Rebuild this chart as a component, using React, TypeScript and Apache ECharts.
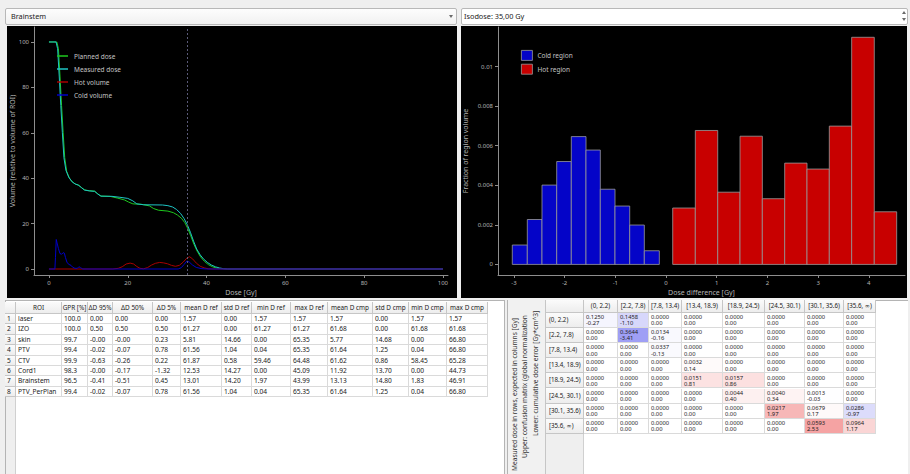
import React, { useEffect, useRef } from "react";
import * as echarts from "echarts";

const FONT = '"Noto Sans", "DejaVu Sans", sans-serif';

// ---- Dose-volume histogram of the selected ROI: [dose Gy, volume %] ----
const plannedDose: number[][] = [
  [0, 100], [2.0, 100], [2.4, 97], [2.8, 85], [3.2, 72], [3.6, 60], [4.0, 49], [4.5, 43], [5.2, 40],
  [6.0, 38.3], [6.8, 37.3], [7.6, 36.9], [8.3, 35.8], [9.1, 34.8], [10.2, 34.5], [11.6, 34.3],
  [12.4, 33.1], [13.2, 32.1], [15.5, 32], [17.5, 31.2], [19.2, 30.4], [20.2, 29.5], [21.3, 28.7],
  [23.5, 28.5], [25.5, 27.8], [26.6, 26.6], [27.8, 25.9], [30.2, 25.5], [31.6, 24.8], [32.6, 23.8],
  [33.6, 22.4], [34.5, 20.4], [35.2, 18], [36, 14.6], [36.8, 10.9], [37.6, 7.9], [38.5, 5.3],
  [39.5, 3.3], [40.5, 1.9], [41.5, 1.0], [42.5, 0.45], [43.5, 0.15], [44.5, 0], [100, 0],
];
const measuredDose: number[][] = [
  [0, 100], [1.8, 100], [2.2, 97], [2.6, 85], [3.0, 72], [3.4, 60], [3.8, 49], [4.3, 43.5], [5.0, 40.5],
  [5.8, 38.5], [6.6, 37.5], [7.4, 37], [8.2, 35.9], [9.0, 34.8], [10.2, 34.4], [11.6, 34.2],
  [12.4, 33], [13.2, 32.1], [16, 32], [18, 31.6], [20, 31.1], [21.3, 30], [22.3, 28.7], [24, 28.3],
  [28.8, 28.2], [30.2, 27.9], [31.4, 27.3], [32.4, 26.2], [33.4, 24.5], [34.3, 22.2], [35.1, 19.6],
  [35.9, 16.2], [36.7, 12.3], [37.5, 8.8], [38.4, 6.2], [39.3, 4.3], [40.3, 2.8], [41.3, 1.7],
  [42.3, 0.95], [43.3, 0.45], [44.3, 0.15], [45.3, 0], [100, 0],
];
const hotVolume: number[][] = [
  [0, 0], [16.2, 0], [17.6, 0.3], [18.6, 1], [19.6, 2.2], [20.6, 2.6], [21.5, 2.2], [22.3, 1.1],
  [23.1, 0.3], [24, 0.1], [25, 0.6], [26, 1.7], [27, 2.5], [28.1, 2.9], [29.1, 2.7], [30.1, 2.3],
  [31.1, 1.6], [32.1, 1.2], [33.1, 1.6], [34.1, 3.1], [35, 4.8], [35.7, 5.4], [36.5, 4.4],
  [37.4, 2.6], [38.4, 1.2], [39.4, 0.5], [40.4, 0.1], [41.4, 0], [100, 0],
];
const coldVolume: number[][] = [
  [0, 0], [1.5, 0], [1.65, 5], [1.85, 13], [2.05, 11.5], [2.4, 9], [2.8, 6.8], [3.2, 6.5], [3.6, 7.2],
  [3.9, 7], [4.2, 5], [4.6, 2.8], [5.1, 2], [5.6, 1.6], [6.0, 0.8], [6.6, 0.3], [7.2, 0.3], [7.6, 1],
  [8.0, 0.6], [8.6, 0], [32.8, 0], [33.6, 0.6], [34.3, 2], [35, 3.5], [35.6, 3.1], [36.4, 1.8],
  [37.4, 0.7], [38.6, 0.2], [40, 0], [100, 0],
];
const isodoseGy = 35;
const doseTicks = [0, 20, 40, 60, 80, 100];
const volumeTicks = [0, 20, 40, 60, 80, 100];

// ---- Dose-difference histograms inside the isodose ----
const coldEdges = [-3.032, -2.736, -2.446, -2.156, -1.868, -1.578, -1.296, -1.006, -0.716, -0.428, -0.132];
const coldFractions = [0.00098, 0.00227, 0.00401, 0.0052, 0.00646, 0.00578, 0.0038, 0.00295, 0.00199, 0.00069];
const hotEdges = [0.132, 0.578, 1.02, 1.46, 1.9, 2.341, 2.781, 3.221, 3.662, 4.108, 4.55];
const hotFractions = [0.00285, 0.00677, 0.00365, 0.00648, 0.00332, 0.00512, 0.00482, 0.00699, 0.01148, 0.00266];
const diffTicks = [-3, -2, -1, 0, 1, 2, 3, 4];
const fractionTicks = [0, 0.002, 0.004, 0.006, 0.008, 0.01];

// ---- ROI statistics table ----
const roiColumns = ["ROI", "GPR [%]", "ΔD 95%", "ΔD 50%", "ΔD 5%", "mean D ref", "std D ref", "min D ref", "max D ref", "mean D cmp", "std D cmp", "min D cmp", "max D cmp"];
const roiNames = ["laser", "IZO", "skin", "PTV", "CTV", "Cord1", "Brainstem", "PTV_PerPlan"];
const gprPercent = ["100.0", "100.0", "99.7", "99.4", "99.9", "98.3", "96.5", "99.4"];
const deltaD95 = ["0.00", "0.50", "-0.00", "-0.02", "-0.63", "-0.00", "-0.41", "-0.02"];
const deltaD50 = ["0.00", "0.50", "-0.00", "-0.07", "-0.26", "-0.17", "-0.51", "-0.07"];
const deltaD5 = ["0.00", "0.50", "0.23", "0.78", "0.22", "-1.32", "0.45", "0.78"];
const meanDRef = ["1.57", "61.27", "5.81", "61.56", "61.87", "12.53", "13.01", "61.56"];
const stdDRef = ["0.00", "0.00", "14.66", "1.04", "0.58", "14.27", "14.20", "1.04"];
const minDRef = ["1.57", "61.27", "0.00", "0.04", "59.46", "0.00", "1.97", "0.04"];
const maxDRef = ["1.57", "61.27", "65.35", "65.35", "64.48", "45.09", "43.99", "65.35"];
const meanDCmp = ["1.57", "61.68", "5.77", "61.64", "61.62", "11.92", "13.13", "61.64"];
const stdDCmp = ["0.00", "0.00", "14.68", "1.25", "0.86", "13.70", "14.80", "1.25"];
const minDCmp = ["1.57", "61.68", "0.00", "0.04", "58.45", "0.00", "1.83", "0.04"];
const maxDCmp = ["1.57", "61.68", "66.80", "66.80", "65.28", "44.73", "46.91", "66.80"];

// ---- Confusion matrix of dose bins ----
const doseBins = ["(0, 2.2)", "[2.2, 7.8)", "[7.8, 13.4)", "[13.4, 18.9)", "[18.9, 24.5)", "[24.5, 30.1)", "[30.1, 35.6)", "[35.6, ∞)"];
const confusionUpper = [
  [0.125, 0.1458, 0, 0, 0, 0, 0, 0],
  [0, 0.3644, 0.0134, 0, 0, 0, 0, 0],
  [0, 0, 0.0337, 0, 0, 0, 0, 0],
  [0, 0, 0, 0.0032, 0, 0, 0, 0],
  [0, 0, 0, 0.0151, 0.0157, 0, 0, 0],
  [0, 0, 0, 0, 0.0044, 0.004, 0.0013, 0],
  [0, 0, 0, 0, 0, 0.0217, 0.0679, 0.0286],
  [0, 0, 0, 0, 0, 0, 0.0593, 0.0964],
];
const doseErrorLower = [
  [-0.27, -1.1, 0, 0, 0, 0, 0, 0],
  [0, -3.41, -0.16, 0, 0, 0, 0, 0],
  [0, 0, -0.13, 0, 0, 0, 0, 0],
  [0, 0, 0, 0.14, 0, 0, 0, 0],
  [0, 0, 0, 0.81, 0.86, 0, 0, 0],
  [0, 0, 0, 0, 0.4, 0.34, -0.03, 0],
  [0, 0, 0, 0, 0, 1.97, 0.17, -0.97],
  [0, 0, 0, 0, 0, 0, 2.53, 1.17],
];
const matrixCaption = [
  "Measured dose in rows, expected in columns [Gy]",
  "Upper: confusion matrix (global normalization",
  "Lower: cumulative dose error [Gy*cm^3]",
];

const AXIS = "#8e8e8e";
const LABEL = "#b4b4b4";

function baseAxis(extra: any) {
  return {
    type: "value",
    nameLocation: "middle",
    nameMoveOverlap: false,
    nameTextStyle: { color: LABEL, fontSize: 7, fontFamily: FONT },
    axisLine: { show: true, onZero: false, lineStyle: { color: AXIS, width: 1 } },
    axisTick: { show: true, length: 3, lineStyle: { color: AXIS } },
    axisLabel: { color: LABEL, fontSize: 6, fontFamily: FONT, margin: 4 },
    splitLine: { show: false },
    ...extra,
  };
}

function dvhLine(name: string, data: number[][], color: string, extra: any = {}) {
  return {
    type: "line",
    name,
    data,
    symbol: "none",
    showSymbol: false,
    lineStyle: { color, width: 1 },
    itemStyle: { color },
    ...extra,
  };
}

const dvhOption = {
  animation: false,
  backgroundColor: "#000",
  textStyle: { fontFamily: FONT },
  grid: { left: 27, top: 1, width: 414, height: 248, containLabel: false, outerBoundsMode: "none" },
  legend: {
    orient: "vertical",
    left: 50,
    top: 25,
    padding: 0,
    icon: "rect",
    itemWidth: 11,
    itemHeight: 1.5,
    itemGap: 3,
    selectedMode: false,
    textStyle: { color: "#c4c4c4", fontSize: 6.5, lineHeight: 10, fontFamily: FONT, padding: [0, 0, 0, 1] },
    data: ["Planned dose", "Measured dose", "Hot volume", "Cold volume"],
  },
  xAxis: baseAxis({
    min: -3.8,
    max: 101.3,
    name: "Dose [Gy]",
    nameGap: 14,
    axisTick: { show: true, length: 3, lineStyle: { color: AXIS }, customValues: doseTicks },
    axisLabel: { color: LABEL, fontSize: 6, fontFamily: FONT, margin: 5, customValues: doseTicks },
  }),
  yAxis: baseAxis({
    min: -2.64,
    max: 106.6,
    name: "Volume (relative to volume of ROI)",
    nameGap: 18,
    nameRotate: 90,
    axisTick: { show: true, length: 3, lineStyle: { color: AXIS }, customValues: volumeTicks },
    axisLabel: { color: LABEL, fontSize: 6, fontFamily: FONT, margin: 5, customValues: volumeTicks },
  }),
  series: [
    dvhLine("Planned dose", plannedDose, "#1ec81e", {
      markLine: {
        silent: true,
        symbol: ["none", "none"],
        label: { show: false },
        lineStyle: { color: "#5a5a78", type: [2, 2], width: 1 },
        data: [{ xAxis: isodoseGy }],
      },
    }),
    dvhLine("Measured dose", measuredDose, "#1ec4c4"),
    dvhLine("Hot volume", hotVolume, "#a80000"),
    dvhLine("Cold volume", coldVolume, "#0000c8"),
  ],
};

function histogramSeries(name: string, edges: number[], heights: number[], color: string) {
  return {
    type: "custom",
    name,
    itemStyle: { color },
    data: heights.map((h, i) => [edges[i], edges[i + 1], h]),
    encode: { x: [0, 1], y: 2 },
    renderItem: (_params: any, api: any) => {
      const top = api.coord([api.value(0), api.value(2)]);
      const bottom = api.coord([api.value(1), 0]);
      return {
        type: "rect",
        shape: { x: top[0], y: top[1], width: bottom[0] - top[0], height: bottom[1] - top[1] },
        style: { fill: color, stroke: "#9a9a9a", lineWidth: 0.8 },
      };
    },
  };
}

const diffOption = {
  animation: false,
  backgroundColor: "#000",
  textStyle: { fontFamily: FONT },
  grid: { left: 37, top: 1, width: 407, height: 248, containLabel: false, outerBoundsMode: "none" },
  legend: {
    orient: "vertical",
    left: 60,
    top: 24,
    padding: 0,
    icon: "rect",
    itemWidth: 11,
    itemHeight: 10,
    itemGap: 3,
    selectedMode: false,
    itemStyle: { borderColor: "#9a9a9a", borderWidth: 0.8 },
    textStyle: { color: "#c4c4c4", fontSize: 6.5, lineHeight: 10, fontFamily: FONT },
    data: ["Cold region", "Hot region"],
  },
  xAxis: baseAxis({
    min: -3.314,
    max: 4.714,
    name: "Dose difference [Gy]",
    nameGap: 14,
    axisTick: { show: true, length: 3, lineStyle: { color: AXIS }, customValues: diffTicks },
    axisLabel: { color: LABEL, fontSize: 6, fontFamily: FONT, margin: 5, customValues: diffTicks },
  }),
  yAxis: baseAxis({
    min: -0.000535,
    max: 0.012,
    name: "Fraction of region volume",
    nameGap: 29,
    nameRotate: 90,
    axisTick: { show: true, length: 3, lineStyle: { color: AXIS }, customValues: fractionTicks },
    axisLabel: {
      color: LABEL,
      fontSize: 6,
      fontFamily: FONT,
      margin: 5,
      customValues: fractionTicks,
      formatter: (v: number) => String(v),
    },
  }),
  series: [
    histogramSeries("Cold region", coldEdges, coldFractions, "#0404c8"),
    histogramSeries("Hot region", hotEdges, hotFractions, "#c80000"),
  ],
};

function EChart({ option, style }: { option: any; style: React.CSSProperties }) {
  const ref = useRef<HTMLDivElement>(null);
  useEffect(() => {
    const chart = echarts.init(ref.current as HTMLDivElement, null, { renderer: "svg" });
    chart.setOption(option);
    return () => chart.dispose();
  }, [option]);
  return <div ref={ref} style={style} />;
}

function Box({ x, y, w, h, style, children }: any) {
  return (
    <div
      style={{
        position: "absolute",
        left: x,
        top: y,
        width: w,
        height: h,
        boxSizing: "border-box",
        overflow: "hidden",
        whiteSpace: "nowrap",
        ...style,
      }}
    >
      {children}
    </div>
  );
}

const headerCell: React.CSSProperties = {
  background: "linear-gradient(#fbfbfb, #ededed)",
  borderRight: "1px solid #c6c6c6",
  borderBottom: "1px solid #c6c6c6",
  color: "#222",
};
const bodyCell: React.CSSProperties = {
  background: "#fff",
  borderRight: "1px solid #dadada",
  borderBottom: "1px solid #dadada",
  color: "#222",
};

function RoiTable() {
  const edges = [16, 62, 88, 113, 153, 181, 222, 252, 291, 328, 373, 409, 447, 488];
  const top = 302;
  const headH = 12;
  const rowH = 10.4;
  const columns = [roiNames, gprPercent, deltaD95, deltaD50, deltaD5, meanDRef, stdDRef, minDRef, maxDRef, meanDCmp, stdDCmp, minDCmp, maxDCmp];
  const cells: any[] = [];
  cells.push(<Box key="corner" x={5} y={top} w={11} h={headH} style={headerCell} />);
  roiColumns.forEach((name, c) => {
    cells.push(
      <Box key={"h" + c} x={edges[c]} y={top} w={edges[c + 1] - edges[c]} h={headH}
        style={{ ...headerCell, fontSize: 6.4, lineHeight: headH - 1 + "px", textAlign: "center" }}>
        {name}
      </Box>
    );
  });
  roiNames.forEach((_n, r) => {
    const y = top + headH + r * rowH;
    cells.push(
      <Box key={"n" + r} x={5} y={y} w={11} h={rowH}
        style={{ ...headerCell, fontSize: 6.6, lineHeight: rowH - 1 + "px", paddingLeft: 2 }}>
        {r + 1}
      </Box>
    );
    columns.forEach((col, c) => {
      cells.push(
        <Box key={"c" + r + "_" + c} x={edges[c]} y={y} w={edges[c + 1] - edges[c]} h={rowH}
          style={{ ...bodyCell, fontSize: 6.6, lineHeight: rowH - 1 + "px", paddingLeft: 2 }}>
          {col[r]}
        </Box>
      );
    });
  });
  const tableBottom = top + headH + roiNames.length * rowH;
  return (
    <>
      <Box x={5} y={300} w={500} h={174} style={{ background: "#fff", borderLeft: "1px solid #b4b4b4", borderTop: "1px solid #b4b4b4", borderRight: "1px solid #b4b4b4" }} />
      <Box x={5} y={tableBottom} w={11} h={474 - tableBottom} style={{ background: "#efefef", borderLeft: "1px solid #b4b4b4", borderRight: "1px solid #d0d0d0" }} />
      {cells}
    </>
  );
}

function errorTint(v: number): string {
  const a = Math.min(0.58, Math.abs(v) * 0.22);
  const strong = Math.round(255 - 165 * a);
  const weak = Math.round(255 - 18 * a);
  if (v < 0) return `rgb(${strong}, ${strong}, ${weak})`;
  if (v > 0) return `rgb(${weak}, ${strong}, ${strong})`;
  return "#fff";
}

function ConfusionMatrix() {
  const edges = [584, 618, 649, 682, 723, 765, 805, 844, 876];
  const top = 300;
  const headH = 13;
  const rowH = 15.1;
  const hdrLeft = 546;
  const cells: any[] = [];
  cells.push(<Box key="corner" x={hdrLeft} y={top} w={edges[0] - hdrLeft} h={headH} style={headerCell} />);
  doseBins.forEach((bin, c) => {
    cells.push(
      <Box key={"h" + c} x={edges[c]} y={top} w={edges[c + 1] - edges[c]} h={headH}
        style={{ ...headerCell, fontSize: 6.2, lineHeight: headH - 1 + "px", textAlign: "center" }}>
        {bin}
      </Box>
    );
  });
  doseBins.forEach((bin, r) => {
    const y = top + headH + r * rowH;
    cells.push(
      <Box key={"r" + r} x={hdrLeft} y={y} w={edges[0] - hdrLeft} h={rowH}
        style={{ ...headerCell, fontSize: 6.2, lineHeight: rowH - 1 + "px", paddingLeft: 3 }}>
        {bin}
      </Box>
    );
    doseBins.forEach((_b, c) => {
      const err = doseErrorLower[r][c];
      cells.push(
        <Box key={"c" + r + "_" + c} x={edges[c]} y={y} w={edges[c + 1] - edges[c]} h={rowH}
          style={{ ...bodyCell, background: errorTint(err), fontSize: 5.8, lineHeight: "6.2px", paddingLeft: 2, paddingTop: 1.2 }}>
          <div>{confusionUpper[r][c].toFixed(4)}</div>
          <div>{err.toFixed(2)}</div>
        </Box>
      );
    });
  });
  const tableBottom = top + headH + doseBins.length * rowH;
  const captionX = [514, 524.5, 535];
  const captionStart = [471, 458, 436];
  return (
    <>
      <Box x={507} y={300} w={401} h={174} style={{ background: "#fff", borderLeft: "1px solid #b4b4b4", borderTop: "1px solid #b4b4b4" }} />
      <Box x={508} y={300} w={hdrLeft - 508} h={174} style={{ background: "#f1f1f1", borderRight: "1px solid #c6c6c6" }} />
      <Box x={hdrLeft} y={tableBottom} w={edges[0] - hdrLeft} h={474 - tableBottom} style={{ background: "#efefef", borderRight: "1px solid #d0d0d0" }} />
      {matrixCaption.map((line, i) => (
        <div
          key={"cap" + i}
          style={{
            position: "absolute",
            left: captionX[i] - 4.5,
            top: captionStart[i],
            height: 9,
            lineHeight: "9px",
            fontSize: 6.6,
            color: "#333",
            whiteSpace: "nowrap",
            transform: "rotate(-90deg)",
            transformOrigin: "left top",
          }}
        >
          {line}
        </div>
      ))}
      {cells}
    </>
  );
}

function Arrow({ x, y, up }: { x: number; y: number; up?: boolean }) {
  return (
    <div
      style={{
        position: "absolute",
        left: x,
        top: y,
        width: 0,
        height: 0,
        borderLeft: "2.5px solid transparent",
        borderRight: "2.5px solid transparent",
        ...(up ? { borderBottom: "3px solid #6a6a6a" } : { borderTop: "3px solid #6a6a6a" }),
      }}
    />
  );
}

export default function App() {
  useEffect(() => {
    document.body.style.margin = "0";
  }, []);
  return (
    <div
      style={{
        position: "fixed",
        left: 0,
        top: 0,
        width: 910,
        height: 474,
        background: "#efefef",
        fontFamily: FONT,
        overflow: "hidden",
      }}
    >
      <Box x={5} y={8} w={452} h={17}
        style={{ border: "1px solid #b8b8b8", borderRadius: 2, background: "linear-gradient(#fdfdfd, #f1f1f1)", fontSize: 7.3, lineHeight: "15px", paddingLeft: 5, color: "#222" }}>
        Brainstem
      </Box>
      <Arrow x={449} y={15} />
      <Box x={461} y={8} w={447} h={17}
        style={{ border: "1px solid #b8b8b8", borderRadius: 2, background: "#fff", fontSize: 7.3, lineHeight: "15px", paddingLeft: 2, color: "#222" }}>
        Isodose: 35,00 Gy
      </Box>
      <Arrow x={902} y={11} up />
      <Arrow x={902} y={18} />

      <EChart option={dvhOption} style={{ position: "absolute", left: 7, top: 26, width: 450, height: 272 }} />
      <EChart option={diffOption} style={{ position: "absolute", left: 461, top: 26, width: 446, height: 272 }} />

      <RoiTable />
      <ConfusionMatrix />
    </div>
  );
}
